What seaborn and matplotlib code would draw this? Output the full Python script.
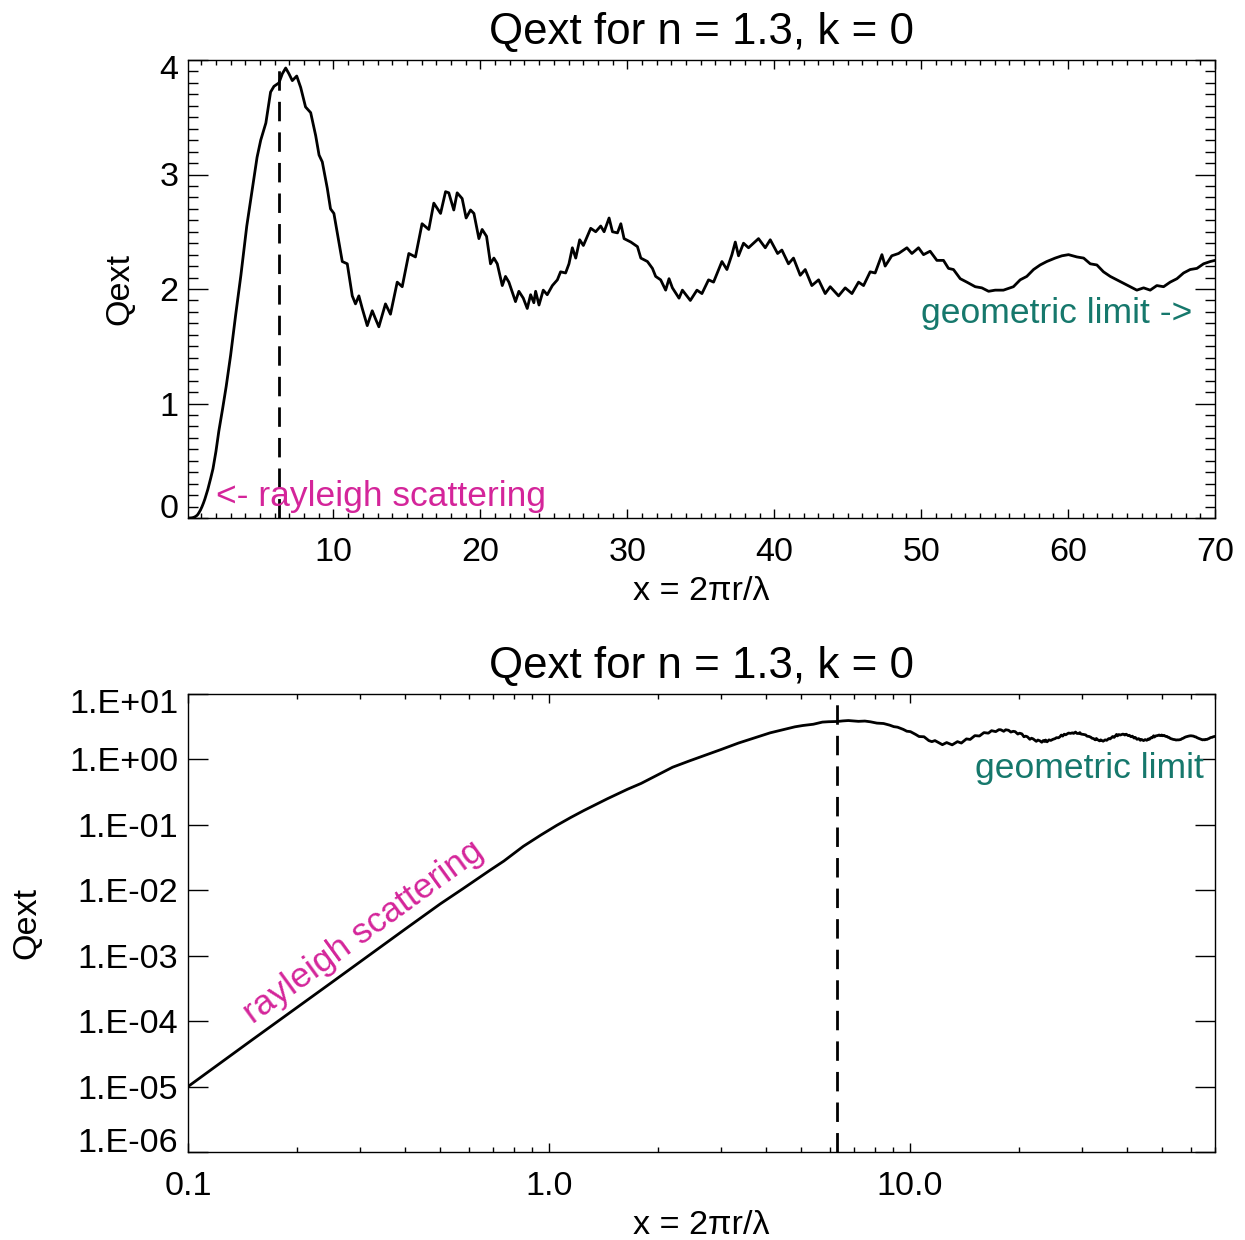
import numpy as np
import pandas as pd
import matplotlib
matplotlib.use("Agg")
import matplotlib.pyplot as plt
import matplotlib.transforms as mtransforms
import seaborn as sns
from matplotlib.ticker import FixedLocator, MultipleLocator, LogLocator, NullLocator, NullFormatter

# ---------------- data ----------------
size_param = [
    0.1, 0.15, 0.2, 0.25, 0.3, 0.4, 0.5, 0.578, 0.686, 0.75, 0.849, 0.95, 1.05, 1.15,
    1.25, 1.45, 1.65, 1.8, 2.0, 2.2, 2.45, 2.7, 3.0, 3.35, 3.7, 4.1, 4.45, 4.8, 5.05,
    5.4, 5.72, 5.95, 6.29, 6.52, 6.75,
    6.97, 7.2, 7.5, 7.77, 8.1, 8.45, 8.79, 9.02, 9.24, 9.58, 9.8, 10.03, 10.37, 10.6,
    10.94, 11.28, 11.5, 11.73, 11.96, 12.3, 12.64, 12.86, 13.09, 13.54, 13.88, 14.34,
    14.68, 15.13, 15.58, 16.03, 16.49, 16.83, 17.29, 17.63, 17.85, 18.19, 18.42, 18.76,
    19.03, 19.33, 19.56, 19.9, 20.12, 20.42, 20.69, 20.92, 21.15, 21.49, 21.71, 21.94,
    22.39, 22.62, 22.92, 23.19, 23.42, 23.64, 23.76, 23.99, 24.28, 24.55, 24.9, 25.24,
    25.46, 25.8, 26.03, 26.26, 26.49, 26.76, 27.01, 27.28, 27.51, 27.85, 28.19, 28.42,
    28.76, 28.99, 29.33, 29.56, 29.78, 30.24, 30.69, 30.92, 31.37, 31.71, 31.93, 32.27,
    32.61, 32.84, 33.07, 33.52, 33.75, 34.29, 34.74, 35.08, 35.53, 35.87, 36.44, 36.78,
    37.12, 37.35, 37.57, 37.91, 38.25, 38.59, 38.93, 39.39, 39.73, 40.23, 40.52, 40.97,
    41.31, 41.77, 42.11, 42.56, 43.02, 43.47, 43.81, 44.38, 44.83, 45.29, 45.74, 46.08,
    46.53, 46.87, 47.33, 47.55, 48.0, 48.46, 49.03, 49.37, 49.82, 50.16, 50.61, 51.07,
    51.52, 51.86, 52.2, 52.66, 53.11, 53.68, 54.13, 54.59, 55.04, 55.6, 56.28, 56.74,
    57.19, 57.65, 58.1, 58.55, 59.12, 59.58, 60.03, 60.6, 61.06, 61.51, 61.96, 62.41,
    62.87, 63.32, 63.78, 64.23, 64.68, 65.14, 65.59, 66.04, 66.5, 66.95, 67.41, 67.86,
    68.31, 68.77, 69.22, 69.68, 70.0,
]
qext = [
    1.0e-5, 5.1e-5, 1.6e-4, 3.9e-4, 8.1e-4, 2.56e-3, 6.2e-3, 0.0106, 0.0202, 0.028,
    0.047, 0.070, 0.098, 0.13, 0.166, 0.25, 0.35, 0.43, 0.58, 0.76, 0.95, 1.15, 1.42,
    1.78, 2.12, 2.55, 2.85, 3.15, 3.30, 3.45, 3.72, 3.77, 3.80, 3.88, 3.93,
    3.88, 3.82, 3.86, 3.76, 3.59, 3.54, 3.34, 3.17, 3.11, 2.88,
    2.70, 2.66, 2.41, 2.24, 2.22, 1.94, 1.87, 1.94, 1.83, 1.68, 1.81, 1.74, 1.67, 1.87,
    1.78, 2.06, 2.02, 2.31, 2.28, 2.57, 2.52, 2.75, 2.66, 2.85, 2.84, 2.69, 2.84, 2.79,
    2.62, 2.69, 2.66, 2.44, 2.52, 2.46, 2.22, 2.27, 2.22, 2.03, 2.11, 2.06, 1.89, 1.98,
    1.92, 1.83, 1.95, 1.88, 1.98, 1.86, 1.99, 1.95, 2.03, 2.08, 2.15, 2.14, 2.22, 2.36,
    2.27, 2.43, 2.38, 2.46, 2.53, 2.50, 2.55, 2.50, 2.62, 2.50, 2.49, 2.57, 2.44, 2.41,
    2.37, 2.27, 2.24, 2.18, 2.11, 2.08, 1.99, 2.09, 2.01, 1.92, 1.99, 1.90, 1.99, 1.96,
    2.08, 2.06, 2.24, 2.17, 2.30, 2.41, 2.29, 2.40, 2.36, 2.40, 2.44, 2.36, 2.43, 2.31,
    2.34, 2.22, 2.27, 2.12, 2.17, 2.03, 2.08, 1.96, 2.02, 1.94, 2.01, 1.96, 2.06, 2.03,
    2.15, 2.14, 2.30, 2.20, 2.29, 2.31, 2.36, 2.31, 2.36, 2.30, 2.33, 2.25, 2.25, 2.18,
    2.17, 2.09, 2.06, 2.02, 2.01, 1.98, 1.99, 1.99, 2.02, 2.08, 2.11, 2.17, 2.21, 2.24,
    2.27, 2.29, 2.30, 2.28, 2.27, 2.22, 2.21, 2.15, 2.11, 2.08, 2.05, 2.02, 1.99, 2.01,
    1.99, 2.03, 2.02, 2.06, 2.09, 2.14, 2.17, 2.18, 2.22, 2.24, 2.25,
]
marker_x = 6.28  # dashed vertical line (x = 2*pi)

title_text = "Qext for n = 1.3, k = 0"
xlabel_text = "x = 2\u03c0r/\u03bb"
ylabel_text = "Qext"

lin_xticks = [10, 20, 30, 40, 50, 60, 70]
lin_yticks = [0, 1, 2, 3, 4]
log_xticks = [0.1, 1.0, 10.0]
log_xticklabels = ["0.1", "1.0", "10.0"]
log_yticks = [1e-6, 1e-5, 1e-4, 1e-3, 1e-2, 1e-1, 1e0, 1e1]
log_yticklabels = ["1.E-06", "1.E-05", "1.E-04", "1.E-03", "1.E-02", "1.E-01", "1.E+00", "1.E+01"]

df = pd.DataFrame({"x": size_param, "qext": qext})

# ---------------- style ----------------
sns.set_theme(style="ticks")
plt.rcParams["font.family"] = ["Liberation Sans", "DejaVu Sans"]
plt.rcParams["axes.edgecolor"] = "black"
plt.rcParams["axes.linewidth"] = 1.0
plt.rcParams["xtick.color"] = "black"
plt.rcParams["ytick.color"] = "black"
plt.rcParams["text.color"] = "black"
plt.rcParams["axes.labelcolor"] = "black"
plt.rcParams["axes.titlecolor"] = "black"

MAGENTA = "#d4259a"
TEAL = "#16786c"
FS_TICK = 24.6
FS_LABEL = 24.6
FS_NOTE = 25.5
FS_TITLE = 31.6

fig = plt.figure(figsize=(12.45, 12.40), dpi=100)
ax1 = fig.add_axes([188 / 1245, 1 - 518 / 1240, 1027 / 1245, 458 / 1240])
ax2 = fig.add_axes([188 / 1245, 1 - 1152 / 1240, 1027 / 1245, 458 / 1240])

# ---------------- top panel (linear) ----------------
sns.lineplot(data=df, x="x", y="qext", ax=ax1, color="black", lw=2.0,
             estimator=None, sort=True)
ax1.axvline(marker_x, ymax=0.985, color="black", lw=2.0, dashes=(7, 4))
ax1.set_xlim(0.1, 70)
ax1.set_ylim(0, 4)
ax1.xaxis.set_major_locator(FixedLocator(lin_xticks))
ax1.xaxis.set_minor_locator(MultipleLocator(1))
ax1.yaxis.set_major_locator(FixedLocator(lin_yticks))
ax1.yaxis.set_minor_locator(MultipleLocator(0.1))
ax1.set_xticklabels([str(v) for v in lin_xticks])
ax1.set_yticklabels([str(v) for v in lin_yticks])
ax1.tick_params(axis="both", which="both", direction="in", top=True, right=True,
                labeltop=False, labelright=False)
ax1.tick_params(axis="y", which="major", length=14.4, width=1, pad=7, labelsize=FS_TICK)
ax1.tick_params(axis="y", which="minor", length=7.2, width=1)
ax1.tick_params(axis="x", which="major", length=6.5, width=1, pad=14, labelsize=FS_TICK)
ax1.tick_params(axis="x", which="minor", length=3.3, width=1)

ax1.text(2.0, 0.19, "<- rayleigh scattering", color=MAGENTA, fontsize=FS_NOTE,
         ha="left", va="center")
ax1.text(50.0, 1.79, "geometric limit ->", color=TEAL, fontsize=FS_NOTE,
         ha="left", va="center")

# ---------------- bottom panel (log-log) ----------------
ax2.set_xscale("log")
ax2.set_yscale("log")
sns.lineplot(data=df, x="x", y="qext", ax=ax2, color="black", lw=2.0,
             estimator=None, sort=True)
ax2.axvline(marker_x, ymax=0.985, color="black", lw=2.0, dashes=(7, 4))
ax2.set_xlim(0.1, 70)
ax2.set_ylim(1e-6, 10)
ax2.xaxis.set_major_locator(FixedLocator(log_xticks))
ax2.set_xticklabels(log_xticklabels)
ax2.xaxis.set_minor_locator(LogLocator(base=10, subs=np.arange(2, 10)))
ax2.xaxis.set_minor_formatter(NullFormatter())
ax2.yaxis.set_major_locator(FixedLocator(log_yticks))
ax2.set_yticklabels(log_yticklabels)
ax2.yaxis.set_minor_locator(NullLocator())
ax2.tick_params(axis="both", which="both", direction="in", top=True, right=True,
                labeltop=False, labelright=False)
ax2.tick_params(axis="y", which="major", length=14.4, width=1, pad=7, labelsize=FS_TICK)
ax2.tick_params(axis="x", which="major", length=6.5, width=1, pad=14, labelsize=FS_TICK)
ax2.tick_params(axis="x", which="minor", length=3.3, width=1)

ax2.text(0.306, 2.3e-3, "rayleigh scattering", color=MAGENTA, fontsize=FS_NOTE,
         ha="center", va="center", rotation=36, rotation_mode="anchor")
ax2.text(15.1, 0.73, "geometric limit", color=TEAL, fontsize=FS_NOTE,
         ha="left", va="center")

# ---------------- labels / titles ----------------
for ax in (ax1, ax2):
    ax.set_title(title_text, fontsize=FS_TITLE, y=1 + 28 / 458, va="center", pad=0)
    ax.set_xlabel(xlabel_text, fontsize=FS_LABEL)
    ax.set_ylabel(ylabel_text, fontsize=FS_LABEL)
    ax.xaxis.set_label_coords(0.5, -73 / 458)
    ax.xaxis.label.set_va("center")
    for sp in ax.spines.values():
        sp.set_visible(True)
        sp.set_color("black")
        sp.set_linewidth(1.0)

ax1.yaxis.set_label_coords(-68 / 1027, 0.5)
ax2.yaxis.set_label_coords(-161 / 1027, 0.5)
ax1.yaxis.label.set_va("center")
ax2.yaxis.label.set_va("center")

# IDL style: end labels pulled inside the axis range
shift_up = mtransforms.ScaledTranslation(0, 5 / 100, fig.dpi_scale_trans)
for ax in (ax1, ax2):
    ticks = ax.yaxis.get_major_ticks()
    ticks[0].label1.set_va("baseline")
    ticks[-1].label1.set_va("top")
    ticks[-1].label1.set_transform(ticks[-1].label1.get_transform() + shift_up)

fig.savefig("out.png", dpi=100, facecolor="white")
